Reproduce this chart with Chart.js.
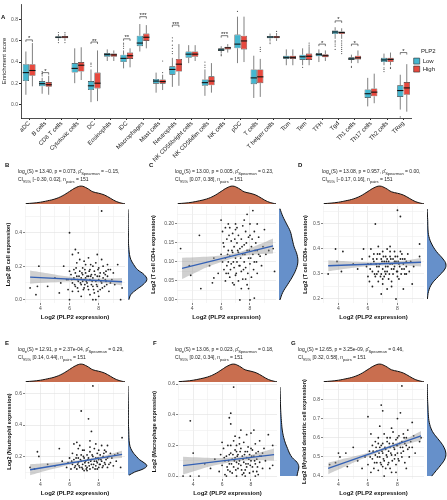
<!DOCTYPE html>
<html lang="en">
<head>
<meta charset="UTF-8">
<title>PLP2 and immune infiltration</title>
<script src="https://cdn.jsdelivr.net/npm/chart.js"></script>
<style>
  body { margin: 0; background: #fff; font-family: "Liberation Sans", Arial, sans-serif; }
  #wrap { position: relative; width: 447px; height: 500px; overflow: hidden; }
  #wrap canvas { position: absolute; }
  .tag { position: absolute; font-size: 6px; font-weight: bold; color: #111; line-height: 6px; }
  .ttl { position: absolute; font-size: 5px; line-height: 8px; white-space: nowrap; color: #222; }
  .ttl sub { font-size: 4px; vertical-align: -1.5px; line-height: 0; }
</style>
</head>
<body>
<div id="wrap"></div>
<script>
// ---------- panel A : ssGSEA scores by PLP2 group ----------
const cellTypes = ['aDC','B cells','CD8 T cells','Cytotoxic cells','DC','Eosinophils','iDC','Macrophages','Mast cells','Neutrophils','NK CD56bright cells','NK CD56dim cells','NK cells','pDC','T cells','T helper cells','Tcm','Tem','TFH','Tgd','Th1 cells','Th17 cells','Th2 cells','TReg'];

const lowMin = [0.09,0.10,0.60,0.20,0.02,0.41,0.34,0.50,0.11,0.165,0.39,0.08,0.48,0.39,0.06,0.60,0.37,0.37,0.40,0.62,0.39,-0.02,0.37,-0.05];
const lowQ1  = [0.22,0.17,0.625,0.30,0.135,0.45,0.40,0.55,0.195,0.28,0.44,0.175,0.505,0.53,0.19,0.625,0.43,0.42,0.455,0.665,0.42,0.06,0.40,0.07];
const lowMed = [0.30,0.195,0.635,0.34,0.175,0.47,0.435,0.58,0.22,0.33,0.475,0.205,0.515,0.57,0.25,0.637,0.445,0.45,0.47,0.685,0.43,0.10,0.42,0.13];
const lowQ3  = [0.38,0.22,0.645,0.39,0.22,0.485,0.47,0.65,0.24,0.36,0.50,0.235,0.53,0.66,0.33,0.648,0.46,0.47,0.485,0.70,0.445,0.14,0.44,0.18];
const lowMax = [0.50,0.25,0.665,0.53,0.33,0.52,0.51,0.76,0.30,0.44,0.56,0.33,0.55,0.83,0.46,0.67,0.52,0.53,0.52,0.73,0.47,0.25,0.48,0.28];

const highMin = [0.17,0.09,0.60,0.23,0.03,0.41,0.35,0.53,0.135,0.175,0.41,0.11,0.49,0.40,0.07,0.60,0.37,0.37,0.41,0.62,0.39,0.01,0.37,-0.07];
const highQ1  = [0.27,0.165,0.625,0.31,0.15,0.45,0.43,0.60,0.195,0.31,0.45,0.18,0.52,0.52,0.20,0.625,0.43,0.42,0.445,0.665,0.425,0.075,0.40,0.09];
const highMed = [0.32,0.185,0.637,0.37,0.20,0.468,0.46,0.635,0.215,0.38,0.475,0.22,0.535,0.60,0.26,0.637,0.445,0.455,0.46,0.68,0.44,0.115,0.425,0.155];
const highQ3  = [0.38,0.21,0.648,0.40,0.30,0.482,0.49,0.67,0.235,0.43,0.50,0.265,0.545,0.65,0.33,0.648,0.46,0.48,0.475,0.69,0.46,0.15,0.44,0.21];
const highMax = [0.58,0.27,0.67,0.54,0.51,0.51,0.53,0.75,0.28,0.57,0.56,0.39,0.57,0.83,0.43,0.675,0.52,0.55,0.51,0.72,0.51,0.29,0.49,0.38];

const lowOut = [[],[0.27,0.29,0.31],[0.585,0.68],[],[0.36,0.38,0.39],[],[0.53,0.55,0.57,0.58],[],[],[0.48,0.50,0.53,0.56,0.60,0.63],[],[0.35,0.37,0.40],[0.46,0.47],[0.88],[],[0.575,0.59],[],[0.35],[],[0.52,0.55,0.57,0.59,0.60],[0.35,0.36],[],[0.31,0.33,0.345],[-0.12]];
const highOut = [[],[],[0.585,0.68],[],[],[],[],[],[0.30,0.41],[],[],[],[],[],[0.50,0.52,0.54],[0.69],[],[0.56,0.58],[],[0.48,0.50,0.52,0.54,0.56,0.58,0.60],[],[],[0.34,0.35],[]];

const sigMark  = ['*','*','','','**','','**','***','','***','','','***','','','','','','*','*','*','','','*'];
const sigLevel = [0.61,0.30,null,null,0.59,null,0.62,0.83,null,0.75,null,null,0.65,null,null,null,null,null,0.57,0.79,0.57,null,null,0.49];

// ---------- panels B-G : correlation with PLP2 ----------
// PLP2 (x) density, shared by every panel
const plp2DensAt = [3.0,3.5,4.0,4.5,5.0,5.5,6.0,6.4,6.8,7.2,7.6,8.0,8.4,8.8,9.2,9.6,9.8];
const plp2Dens   = [0.02,0.05,0.10,0.18,0.28,0.45,0.70,0.90,1.0,0.88,0.68,0.60,0.50,0.32,0.14,0.04,0.01];

const fitXs  = [3.3, 9.6];
const bandXs = [3.3, 4.5, 5.5, 6.5, 7.5, 8.5, 9.6];

// B : B cell
const bPoints = [[3.3,0.07],[3.7,0.03],[3.9,0.20],[3.8,0.08],[4.5,0.08],[5.0,0.13],[5.3,0.04],[5.4,0.10],[5.6,0.20],[5.8,0.12],[6.0,0.40],[6.2,0.27],[6.4,0.30],[6.6,0.28],[8.2,0.53],[9.5,0.0],[9.6,0.07],[9.3,0.21],[9.0,0.16],[5.9,0.06],[6.0,0.00],[7.6,0.0],[7.8,0.0],[8.0,0.02],
  [6.1,0.15],[6.2,0.10],[6.3,0.13],[6.3,0.18],[6.4,0.08],[6.5,0.22],[6.5,0.14],[6.6,0.11],[6.6,0.05],[6.7,0.17],[6.7,0.24],[6.8,0.13],[6.8,0.09],[6.9,0.19],[6.9,0.15],[7.0,0.12],[7.0,0.07],[7.1,0.21],[7.1,0.16],[7.2,0.10],[7.2,0.14],[7.3,0.25],[7.3,0.06],[7.4,0.18],[7.4,0.12],[7.5,0.09],[7.5,0.15],[7.6,0.20],[7.6,0.13],[7.7,0.04],[7.7,0.17],[7.8,0.11],[7.8,0.22],[7.9,0.14],[7.9,0.08],[8.0,0.19],[8.0,0.12],[8.1,0.16],[8.1,0.06],[8.2,0.10],[8.3,0.20],[8.3,0.13],[8.4,0.08],[8.5,0.17],[8.5,0.11],[8.6,0.14],[8.7,0.05],[8.8,0.18],[8.9,0.12],[9.1,0.09],[6.0,0.17],[5.9,0.12],[6.2,0.05],[6.4,0.16],[6.8,0.02],[7.0,0.23],[7.4,0.03],[7.9,0.27],[8.2,0.24],[8.6,0.21],[7.3,0.14],[6.9,0.11],[7.6,0.08],[8.8,0.10],[7.1,0.13],
  [6.15,0.12],[6.35,0.09],[6.45,0.19],[6.55,0.07],[6.65,0.14],[6.75,0.10],[6.85,0.16],[6.95,0.06],[7.05,0.18],[7.15,0.11],[7.25,0.08],[7.35,0.17],[7.45,0.14],[7.55,0.11],[7.65,0.06],[7.75,0.15],[7.85,0.09],[7.95,0.18],[8.05,0.14],[8.15,0.11],[8.25,0.07],[8.35,0.16],[8.45,0.12],[8.55,0.09],[8.65,0.18],[6.55,0.12],[7.05,0.09],[7.45,0.21],[7.95,0.05],[8.45,0.15]];
const bFit = [0.135, 0.107];
const bLo = [0.095,0.102,0.107,0.110,0.106,0.098,0.085];
const bHi = [0.175,0.158,0.143,0.132,0.126,0.126,0.129];
const bDensAt = [0.0,0.03,0.06,0.09,0.12,0.15,0.18,0.21,0.24,0.27,0.30,0.35,0.40,0.45,0.50,0.54];
const bDens   = [0.05,0.15,0.45,0.80,1.0,0.85,0.50,0.30,0.15,0.08,0.05,0.02,0.02,0.01,0.01,0.0];

// C : T cell CD4+
const cPoints = [[3.2,0.135],[3.8,0.09],[3.9,0.065],[4.5,0.17],[4.6,0.03],[5.2,0.09],[5.5,0.11],[5.4,0.045],[5.5,0.058],[5.8,0.07],
  [6.0,0.21],[6.0,0.12],[6.1,0.18],[6.1,0.10],[6.2,0.08],[6.2,0.14],[6.3,0.05],[6.3,0.11],[6.4,0.16],[6.4,0.09],
  [6.5,0.20],[6.5,0.13],[6.5,0.07],[6.6,0.19],[6.6,0.115],[6.6,0.06],[6.7,0.155],[6.7,0.095],[6.8,0.175],[6.8,0.125],
  [6.8,0.045],[6.9,0.14],[6.9,0.085],[7.0,0.185],[7.0,0.11],[7.0,0.065],[7.1,0.15],[7.1,0.10],[7.2,0.17],[7.2,0.125],
  [7.2,0.05],[7.3,0.0],[7.3,0.135],[7.3,0.09],[7.4,0.16],[7.4,0.075],[7.5,0.195],[7.5,0.12],[7.5,0.055],[7.6,0.145],
  [7.6,0.10],[7.7,0.18],[7.7,0.085],[7.8,0.225],[7.8,0.13],[7.8,0.04],[7.9,0.03],[7.9,0.165],[7.9,0.11],[8.0,0.17],
  [8.0,0.0],[8.0,0.095],[8.1,0.14],[8.1,0.06],[8.2,0.235],[8.2,0.12],[8.3,0.18],[8.3,0.005],[8.3,0.10],[8.4,0.15],
  [8.5,0.13],[8.5,0.07],[8.6,0.165],[8.7,0.115],[8.8,0.09],[8.9,0.14],[9.0,0.185],[9.1,0.12],[9.3,0.13],[9.6,0.135],
  [9.7,0.075],[6.3,0.19],[7.0,0.20],[7.6,0.21],[8.5,0.20],
  [6.15,0.15],[6.35,0.07],[6.45,0.12],[6.55,0.17],[6.65,0.08],[6.75,0.13],[6.85,0.10],[6.95,0.16],[7.05,0.07],[7.15,0.13],[7.25,0.09],[7.35,0.11],[7.45,0.14],[7.55,0.08],[7.65,0.12],[7.75,0.15],[7.85,0.07],[7.95,0.13],[8.05,0.11],[8.15,0.16],[8.25,0.08],[8.35,0.13],[8.45,0.10],[8.6,0.12],[6.9,0.04],[7.4,0.03],[7.1,0.19],[8.0,0.20],[6.5,0.10],[7.7,0.055]];
const cFit = [0.083, 0.142];
const cLo = [0.055,0.077,0.093,0.106,0.115,0.120,0.122];
const cHi = [0.111,0.113,0.115,0.120,0.129,0.144,0.162];
const cDensAt = [0.0,0.02,0.04,0.06,0.08,0.10,0.12,0.14,0.16,0.18,0.20,0.22,0.24];
const cDens   = [0.05,0.20,0.45,0.70,0.90,1.0,0.95,0.80,0.70,0.60,0.40,0.20,0.05];

// D : T cell CD8+
const dPoints = [[3.3,0.30],[3.8,0.40],[3.9,0.35],[4.2,0.31],[4.3,0.39],[5.0,0.34],[5.3,0.32],[5.6,0.36],[5.7,0.40],[5.9,0.33],
  [6.0,0.29],[6.1,0.37],[6.1,0.27],[6.2,0.34],[6.3,0.31],[6.3,0.25],[6.4,0.38],[6.4,0.35],[6.5,0.50],[6.5,0.29],
  [6.6,0.33],[6.6,0.36],[6.7,0.41],[6.7,0.31],[6.7,0.27],[6.8,0.34],[6.8,0.38],[6.9,0.30],[6.9,0.36],[7.0,0.32],
  [7.0,0.39],[7.0,0.26],[7.1,0.35],[7.1,0.29],[7.2,0.37],[7.2,0.33],[7.3,0.24],[7.3,0.31],[7.3,0.40],[7.4,0.35],
  [7.4,0.28],[7.5,0.34],[7.5,0.37],[7.6,0.32],[7.6,0.25],[7.7,0.36],[7.7,0.30],[7.8,0.39],[7.8,0.33],[7.9,0.20],
  [7.9,0.35],[8.0,0.555],[8.0,0.31],[8.0,0.37],[8.1,0.34],[8.1,0.28],[8.2,0.53],[8.2,0.36],[8.3,0.32],[8.3,0.38],
  [8.4,0.34],[8.5,0.30],[8.5,0.36],[8.6,0.33],[8.7,0.38],[8.8,0.31],[8.9,0.35],[9.0,0.26],[9.1,0.33],[9.5,0.42],
  [9.5,0.37],[6.2,0.40],[7.5,0.41],[6.9,0.22],[7.6,0.27],[8.4,0.24],[6.0,0.34],[7.2,0.30],[7.8,0.35],[8.6,0.30],
  [6.15,0.32],[6.35,0.36],[6.45,0.30],[6.55,0.34],[6.65,0.38],[6.75,0.33],[6.85,0.29],[6.95,0.35],[7.05,0.37],[7.15,0.31],[7.25,0.35],[7.35,0.33],[7.45,0.30],[7.55,0.36],[7.65,0.34],[7.75,0.32],[7.85,0.37],[7.95,0.31],[8.05,0.35],[8.15,0.33],[8.25,0.30],[8.35,0.36],[8.45,0.32],[8.6,0.35],[7.0,0.28],[7.5,0.39],[8.0,0.29],[6.6,0.30],[7.3,0.36],[8.2,0.39]];
const dFit = [0.333, 0.347];
const dLo = [0.311,0.321,0.328,0.333,0.335,0.334,0.330];
const dHi = [0.355,0.351,0.348,0.347,0.349,0.354,0.364];
const dDensAt = [0.20,0.23,0.26,0.29,0.32,0.34,0.36,0.39,0.42,0.45,0.48,0.51,0.54,0.56];
const dDens   = [0.02,0.08,0.25,0.60,0.95,1.0,0.85,0.50,0.25,0.10,0.05,0.04,0.02,0.01];

// E : Neutrophil
const ePoints = [[3.3,0.13],[3.6,0.12],[3.8,0.23],[3.9,0.20],[4.5,0.15],[5.0,0.14],[5.3,0.25],[5.5,0.17],[5.8,0.13],[5.9,0.16],
  [6.0,0.19],[6.1,0.12],[6.2,0.15],[6.3,0.28],[6.3,0.18],[6.4,0.14],[6.5,0.29],[6.5,0.21],[6.5,0.12],[6.6,0.16],
  [6.6,0.19],[6.7,0.27],[6.7,0.13],[6.8,0.49],[6.8,0.17],[6.8,0.21],[6.9,0.15],[6.9,0.12],[7.0,0.19],[7.0,0.24],
  [7.1,0.14],[7.1,0.17],[7.2,0.21],[7.2,0.13],[7.3,0.44],[7.3,0.16],[7.3,0.19],[7.4,0.12],[7.4,0.23],[7.5,0.36],
  [7.5,0.15],[7.5,0.18],[7.6,0.65],[7.6,0.20],[7.6,0.13],[7.7,0.17],[7.7,0.25],[7.8,0.14],[7.8,0.19],[7.9,0.22],
  [7.9,0.16],[8.0,0.13],[8.0,0.18],[8.1,0.21],[8.1,0.15],[8.2,0.27],[8.2,0.17],[8.3,0.14],[8.3,0.20],[8.4,0.16],
  [8.5,0.23],[8.5,0.18],[8.6,0.13],[8.7,0.20],[8.8,0.22],[8.8,0.16],[8.9,0.19],[9.0,0.14],[9.1,0.21],[9.2,0.17],
  [9.5,0.13],[9.6,0.32],[6.2,0.22],[7.0,0.11],[7.8,0.28],[8.4,0.24],[6.6,0.25],[7.4,0.30],[8.6,0.27],[9.3,0.22],
  [6.15,0.17],[6.35,0.13],[6.45,0.19],[6.55,0.15],[6.65,0.14],[6.75,0.18],[6.85,0.13],[6.95,0.20],[7.05,0.16],[7.15,0.12],[7.25,0.18],[7.35,0.14],[7.45,0.17],[7.55,0.21],[7.65,0.15],[7.75,0.12],[7.85,0.17],[7.95,0.19],[8.05,0.15],[8.15,0.18],[8.25,0.13],[8.35,0.22],[8.45,0.15],[8.6,0.19],[6.9,0.24],[7.4,0.26],[8.0,0.24],[8.7,0.15],[7.2,0.11],[7.9,0.12]];
const eFit = [0.115, 0.213];
const eLo = [0.080,0.112,0.135,0.156,0.173,0.184,0.190];
const eHi = [0.150,0.158,0.165,0.174,0.189,0.208,0.236];
const eDensAt = [0.08,0.10,0.12,0.14,0.16,0.18,0.20,0.22,0.25,0.28,0.32,0.36,0.42,0.50,0.58,0.65];
const eDens   = [0.05,0.35,0.80,1.0,0.85,0.60,0.45,0.30,0.15,0.08,0.05,0.04,0.02,0.02,0.01,0.0];

// F : Macrophage
const fPoints = [[3.3,0.0],[3.8,0.0],[3.8,0.36],[4.0,0.15],[4.4,0.0],[4.8,0.08],[5.2,0.05],[5.5,0.11],[5.8,0.03],[5.9,0.14],
  [6.0,0.07],[6.1,0.18],[6.2,0.10],[6.2,0.01],[6.3,0.13],[6.4,0.04],[6.4,0.20],[6.5,0.38],[6.5,0.08],[6.6,0.41],
  [6.6,0.34],[6.6,0.15],[6.7,0.11],[6.7,0.02],[6.8,0.58],[6.8,0.23],[6.8,0.06],[6.9,0.17],[6.9,0.12],[7.0,0.09],
  [7.0,0.20],[7.1,0.05],[7.1,0.14],[7.2,0.25],[7.2,0.10],[7.3,0.07],[7.3,0.18],[7.4,0.13],[7.4,0.01],[7.5,0.22],
  [7.5,0.09],[7.6,0.16],[7.6,0.04],[7.7,0.12],[7.7,0.27],[7.8,0.08],[7.8,0.19],[7.9,0.14],[7.9,0.02],[8.0,0.28],
  [8.0,0.10],[8.1,0.17],[8.1,0.06],[8.2,0.30],[8.2,0.13],[8.3,0.08],[8.3,0.21],[8.4,0.11],[8.4,0.03],[8.5,0.16],
  [8.6,0.09],[8.6,0.23],[8.7,0.13],[8.8,0.05],[8.9,0.18],[9.0,0.10],[9.2,0.27],[9.3,0.05],[9.5,0.20],[9.5,0.07],
  [6.3,0.0],[7.0,0.0],[7.6,0.0],[6.0,0.22],[7.3,0.30],[8.8,0.15],[6.9,0.26],[7.7,0.06],[8.5,0.01],[6.5,0.14],
  [6.15,0.12],[6.35,0.06],[6.45,0.10],[6.55,0.03],[6.65,0.08],[6.75,0.14],[6.85,0.10],[6.95,0.04],[7.05,0.13],[7.15,0.08],[7.25,0.16],[7.35,0.04],[7.45,0.11],[7.55,0.14],[7.65,0.08],[7.75,0.16],[7.85,0.11],[7.95,0.07],[8.05,0.13],[8.15,0.03],[8.25,0.10],[8.35,0.15],[8.45,0.06],[8.6,0.13],[7.0,0.16],[7.5,0.02],[8.0,0.18],[6.6,0.20],[7.2,0.21],[8.3,0.0]];
const fFit = [0.068, 0.140];
const fLo = [0.010,0.045,0.070,0.089,0.101,0.105,0.100];
const fHi = [0.126,0.121,0.118,0.121,0.131,0.151,0.180];
const fDensAt = [0.0,0.03,0.06,0.09,0.12,0.15,0.18,0.21,0.25,0.30,0.35,0.40,0.45,0.50,0.58];
const fDens   = [0.90,0.95,1.0,0.90,0.65,0.50,0.40,0.30,0.20,0.12,0.08,0.05,0.03,0.02,0.0];

// G : Myeloid dendritic cell
const gPoints = [[3.4,0.46],[3.8,0.47],[4.0,0.52],[4.1,0.50],[4.5,0.52],[4.6,0.45],[5.0,0.55],[5.3,0.48],[5.6,0.44],[5.8,0.50],
  [6.0,0.71],[6.0,0.46],[6.1,0.53],[6.2,0.42],[6.3,0.49],[6.3,0.56],[6.4,0.44],[6.5,0.51],[6.5,0.58],[6.6,0.47],
  [6.6,0.53],[6.7,0.43],[6.7,0.60],[6.8,0.66],[6.8,0.50],[6.8,0.55],[6.9,0.77],[6.9,0.46],[7.0,0.74],[7.0,0.52],
  [7.0,0.57],[7.1,0.48],[7.1,0.62],[7.2,0.54],[7.2,0.44],[7.3,0.50],[7.3,0.58],[7.4,0.53],[7.4,0.47],[7.5,0.60],
  [7.5,0.55],[7.6,0.42],[7.6,0.51],[7.7,0.57],[7.7,0.63],[7.8,0.49],[7.8,0.54],[7.9,0.59],[7.9,0.46],[8.0,0.70],
  [8.0,0.56],[8.0,0.52],[8.1,0.61],[8.1,0.48],[8.2,0.73],[8.2,0.55],[8.3,0.87],[8.3,0.58],[8.3,0.50],[8.4,0.62],
  [8.4,0.53],[8.5,0.57],[8.5,0.47],[8.6,0.60],[8.7,0.54],[8.7,0.64],[8.8,0.50],[8.9,0.58],[9.0,0.68],[9.0,0.55],
  [9.1,0.61],[9.2,0.52],[9.5,0.58],[9.6,0.60],[6.2,0.62],[7.1,0.40],[7.9,0.42],[8.6,0.44],[6.9,0.56],[7.6,0.65],
  [6.15,0.50],[6.35,0.53],[6.45,0.47],[6.55,0.55],[6.65,0.50],[6.75,0.52],[6.85,0.47],[6.95,0.53],[7.05,0.49],[7.15,0.55],[7.25,0.51],[7.35,0.46],[7.45,0.57],[7.55,0.52],[7.65,0.48],[7.75,0.55],[7.85,0.51],[7.95,0.56],[8.05,0.49],[8.15,0.57],[8.25,0.52],[8.35,0.55],[8.45,0.60],[8.6,0.56],[7.0,0.45],[7.5,0.44],[8.0,0.60],[8.8,0.55],[7.3,0.60],[6.7,0.57]];
const gFit = [0.44, 0.61];
const gLo = [0.410,0.451,0.486,0.516,0.543,0.564,0.585];
const gHi = [0.470,0.493,0.512,0.534,0.561,0.592,0.635];
const gDensAt = [0.40,0.43,0.46,0.49,0.52,0.55,0.58,0.61,0.64,0.68,0.72,0.76,0.80,0.84,0.88];
const gDens   = [0.25,0.50,0.75,0.95,1.0,0.90,0.70,0.45,0.25,0.12,0.07,0.05,0.03,0.02,0.01];

// ---------- drawing ----------
Chart.defaults.font.family = '"Liberation Sans", Arial, sans-serif';
Chart.defaults.color = '#4d4d4d';
const wrap = document.getElementById('wrap');

function makeCanvas(left, top, w, h) {
  const c = document.createElement('canvas');
  c.width = w; c.height = h;
  c.style.left = left + 'px'; c.style.top = top + 'px';
  c.style.width = w + 'px'; c.style.height = h + 'px';
  wrap.appendChild(c);
  return c;
}
function addText(cls, left, top, html) {
  const d = document.createElement('div');
  d.className = cls;
  d.style.left = left + 'px'; d.style.top = top + 'px';
  d.innerHTML = html;
  wrap.appendChild(d);
}

// boxplot whiskers, medians, outliers and significance brackets
const groups = [
  { min: lowMin, q1: lowQ1, med: lowMed, q3: lowQ3, max: lowMax, out: lowOut },
  { min: highMin, q1: highQ1, med: highMed, q3: highQ3, max: highMax, out: highOut }
];
const boxExtras = {
  id: 'boxExtras',
  beforeDatasetsDraw(chart) {
    const ctx = chart.ctx, ys = chart.scales.y;
    ctx.save();
    ctx.strokeStyle = '#4a4a4a';
    ctx.lineWidth = 0.7;
    groups.forEach((g, di) => {
      chart.getDatasetMeta(di).data.forEach((bar, i) => {
        ctx.beginPath();
        ctx.moveTo(bar.x, ys.getPixelForValue(g.max[i]));
        ctx.lineTo(bar.x, ys.getPixelForValue(g.q3[i]));
        ctx.moveTo(bar.x, ys.getPixelForValue(g.q1[i]));
        ctx.lineTo(bar.x, ys.getPixelForValue(g.min[i]));
        ctx.stroke();
      });
    });
    ctx.restore();
  },
  afterDatasetsDraw(chart) {
    const ctx = chart.ctx, ys = chart.scales.y;
    ctx.save();
    groups.forEach((g, di) => {
      chart.getDatasetMeta(di).data.forEach((bar, i) => {
        const half = bar.width / 2;
        const ym = ys.getPixelForValue(g.med[i]);
        ctx.strokeStyle = '#111';
        ctx.lineWidth = 1.1;
        ctx.beginPath();
        ctx.moveTo(bar.x - half, ym);
        ctx.lineTo(bar.x + half, ym);
        ctx.stroke();
        ctx.fillStyle = '#555';
        g.out[i].forEach(v => {
          ctx.beginPath();
          ctx.arc(bar.x, ys.getPixelForValue(v), 0.6, 0, Math.PI * 2);
          ctx.fill();
        });
      });
    });
    const m0 = chart.getDatasetMeta(0).data, m1 = chart.getDatasetMeta(1).data;
    ctx.strokeStyle = '#222';
    ctx.lineWidth = 0.6;
    ctx.fillStyle = '#222';
    ctx.font = '6px "Liberation Sans", Arial, sans-serif';
    ctx.textAlign = 'center';
    ctx.textBaseline = 'alphabetic';
    sigMark.forEach((s, i) => {
      if (!s) return;
      const x1 = m0[i].x, x2 = m1[i].x, yb = ys.getPixelForValue(sigLevel[i]);
      ctx.beginPath();
      ctx.moveTo(x1, yb + 2); ctx.lineTo(x1, yb); ctx.lineTo(x2, yb); ctx.lineTo(x2, yb + 2);
      ctx.stroke();
      ctx.fillText(s, (x1 + x2) / 2, yb + 0.5);
    });
    ctx.restore();
  }
};

new Chart(makeCanvas(0, 0, 447, 170), {
  type: 'bar',
  data: {
    labels: cellTypes,
    datasets: [
      { label: 'Low', data: lowQ1.map((v, i) => [v, lowQ3[i]]), backgroundColor: '#45B6CF', borderColor: '#2b2b2b', borderWidth: 0.6, borderSkipped: false },
      { label: 'High', data: highQ1.map((v, i) => [v, highQ3[i]]), backgroundColor: '#E7493E', borderColor: '#2b2b2b', borderWidth: 0.6, borderSkipped: false }
    ]
  },
  options: {
    responsive: false, animation: false, events: [],
    categoryPercentage: 0.8, barPercentage: 0.96,
    layout: { padding: { top: 1, right: 2 } },
    plugins: {
      tooltip: { enabled: false },
      legend: {
        position: 'right', fullSize: false,
        title: { display: true, text: 'PLP2', color: '#222', font: { size: 6 }, padding: { top: 0, bottom: 1 } },
        labels: { boxWidth: 6, boxHeight: 6, padding: 2, color: '#222', font: { size: 6 } }
      }
    },
    scales: {
      x: {
        afterFit: s => { s.height = 52; },
        ticks: { autoSkip: false, minRotation: 45, maxRotation: 45, color: '#222', font: { size: 6 }, padding: 0 },
        grid: { offset: false, drawOnChartArea: false, tickLength: 2, color: '#222' },
        border: { display: true, color: '#222', width: 0.8 }
      },
      y: {
        min: -0.13, max: 0.95,
        afterFit: s => { s.width = 21; },
        ticks: { stepSize: 0.2, includeBounds: false, callback: v => v.toFixed(1), color: '#555', font: { size: 5 }, padding: 1 },
        grid: { drawOnChartArea: false, tickLength: 2, color: '#222' },
        border: { display: true, color: '#222', width: 0.8 },
        title: { display: true, text: 'Enrichment score', color: '#222', font: { size: 6 }, padding: { top: 1, bottom: 0 } }
      }
    }
  },
  plugins: [boxExtras]
});
addText('tag', 1, 14, 'A');

// scatter panels with marginal densities
const xRange = [2.95, 9.8];
function isMajor(v, step) { return Math.abs(v / step - Math.round(v / step)) < 1e-6; }

function scatterPanel(p) {
  const padT = 14, padR = 4, xAxisH = 18;
  const c = makeCanvas(p.l - p.axisW, p.t - padT, p.axisW + p.w + padR, padT + p.h + xAxisH);
  const gridColor = ctx => isMajor(ctx.tick.value, ctx.scale.axis === 'x' ? 2 : p.yMajor) ? '#e1e1e1' : '#efefef';
  const tickColor = ctx => isMajor(ctx.tick.value, ctx.scale.axis === 'x' ? 2 : p.yMajor) ? '#333' : 'rgba(0,0,0,0)';
  new Chart(c, {
    type: 'scatter',
    data: {
      datasets: [
        { type: 'line', data: fitXs.map((x, i) => ({ x, y: p.fit[i] })), borderColor: '#3461B5', borderWidth: 1.3, pointRadius: 0, fill: false },
        { type: 'line', data: bandXs.map((x, i) => ({ x, y: p.lo[i] })), borderWidth: 0, pointRadius: 0, fill: false, tension: 0.4 },
        { type: 'line', data: bandXs.map((x, i) => ({ x, y: p.hi[i] })), borderWidth: 0, pointRadius: 0, fill: '-1', backgroundColor: 'rgba(150,150,150,0.45)', tension: 0.4 },
        { data: p.pts.map(d => ({ x: d[0], y: d[1] })), pointRadius: 0.9, backgroundColor: '#222', borderWidth: 0 }
      ]
    },
    options: {
      responsive: false, animation: false, events: [],
      layout: { padding: { top: padT, right: padR, left: 0, bottom: 0 } },
      plugins: { legend: { display: false }, tooltip: { enabled: false } },
      scales: {
        x: {
          type: 'linear', min: xRange[0], max: xRange[1],
          afterFit: s => { s.height = xAxisH; },
          ticks: { stepSize: 1, includeBounds: false, maxRotation: 0, autoSkip: false, callback: v => isMajor(v, 2) ? String(v) : '', color: '#4d4d4d', font: { size: 5 }, padding: 1 },
          grid: { color: gridColor, tickColor: tickColor, tickLength: 2, lineWidth: 0.6 },
          border: { display: false },
          title: { display: true, text: 'Log2 (PLP2 expression)', color: '#111', font: { size: 6, weight: 'bold' }, padding: { top: 0, bottom: 0 } }
        },
        y: {
          type: 'linear', min: p.yMin, max: p.yMax,
          afterFit: s => { s.width = p.axisW; },
          ticks: { stepSize: p.yStep, includeBounds: false, callback: v => isMajor(v, p.yMajor) ? v.toFixed(p.yDec) : '', color: '#4d4d4d', font: { size: 5 }, padding: 1 },
          grid: { color: gridColor, tickColor: tickColor, tickLength: 2, lineWidth: 0.6 },
          border: { display: false },
          title: { display: true, text: p.yTitle, color: '#111', font: { size: 5.5, weight: 'bold' }, padding: { top: p.tPad, bottom: 0 } }
        }
      }
    }
  });

  // top marginal density (PLP2)
  new Chart(makeCanvas(p.l, p.t - 21, p.w, 19), {
    type: 'line',
    data: { datasets: [{ data: plp2DensAt.map((x, i) => ({ x, y: plp2Dens[i] })), borderColor: '#111', borderWidth: 1, pointRadius: 0, tension: 0.4, fill: 'origin', backgroundColor: '#C96E4F' }] },
    options: {
      responsive: false, animation: false, events: [],
      layout: { padding: 0 },
      plugins: { legend: { display: false }, tooltip: { enabled: false } },
      scales: { x: { type: 'linear', min: xRange[0], max: xRange[1], display: false }, y: { type: 'linear', min: 0, max: 1.06, display: false } }
    }
  });

  // right marginal density (cell score)
  new Chart(makeCanvas(p.l + p.w + 3, p.t, 20, p.h), {
    type: 'line',
    data: { datasets: [{ data: p.densAt.map((y, i) => ({ x: p.dens[i], y })), borderColor: '#111', borderWidth: 1, pointRadius: 0, tension: 0.4, fill: 'origin', backgroundColor: '#6690CA' }] },
    options: {
      indexAxis: 'y',
      responsive: false, animation: false, events: [],
      layout: { padding: 0 },
      plugins: { legend: { display: false }, tooltip: { enabled: false } },
      scales: { x: { type: 'linear', min: 0, max: 1.06, display: false }, y: { type: 'linear', min: p.yMin, max: p.yMax, display: false } }
    }
  });

  addText('tag', p.tagX, p.t - 44, p.tag);
  addText('ttl', p.ttlX, p.t - 39, p.title[0] + '<br>' + p.title[1]);
}

const panels = [
  { tag: 'B', tagX: 5, ttlX: 18, l: 25, t: 206, w: 100, h: 97, axisW: 25, tPad: 5, yMin: -0.02, yMax: 0.56, yStep: 0.1, yMajor: 0.2, yDec: 1,
    yTitle: 'Log2 (B cell expression)', pts: bPoints, fit: bFit, lo: bLo, hi: bHi, densAt: bDensAt, dens: bDens,
    title: ['log<sub>e</sub>(S) = 13.40, p = 0.073, ρ̂<sub>Spearman</sub> = −0.15,', 'CI<sub>95%</sub> [−0.30, 0.02], n<sub>pairs</sub> = 151'] },
  { tag: 'C', tagX: 149, ttlX: 175, l: 177, t: 206, w: 99, h: 97, axisW: 27, tPad: 0, yMin: -0.008, yMax: 0.247, yStep: 0.025, yMajor: 0.05, yDec: 2,
    yTitle: 'Log2 (T cell CD4+ expression)', pts: cPoints, fit: cFit, lo: cLo, hi: cHi, densAt: cDensAt, dens: cDens,
    title: ['log<sub>e</sub>(S) = 13.00, p = 0.005, ρ̂<sub>Spearman</sub> = 0.23,', 'CI<sub>95%</sub> [0.07, 0.38], n<sub>pairs</sub> = 151'] },
  { tag: 'D', tagX: 298, ttlX: 322, l: 323, t: 206, w: 101, h: 97, axisW: 21, tPad: 0, yMin: 0.184, yMax: 0.572, yStep: 0.05, yMajor: 0.1, yDec: 1,
    yTitle: 'Log2 (T cell CD8+ expression)', pts: dPoints, fit: dFit, lo: dLo, hi: dHi, densAt: dDensAt, dens: dDens,
    title: ['log<sub>e</sub>(S) = 13.08, p = 0.957, ρ̂<sub>Spearman</sub> = 0.00,', 'CI<sub>95%</sub> [−0.17, 0.16], n<sub>pairs</sub> = 151'] },
  { tag: 'E', tagX: 5, ttlX: 18, l: 25, t: 384, w: 100, h: 95, axisW: 25, tPad: 6, yMin: 0.056, yMax: 0.6625, yStep: 0.1, yMajor: 0.2, yDec: 1,
    yTitle: 'Log2 (Neutrophil expression)', pts: ePoints, fit: eFit, lo: eLo, hi: eHi, densAt: eDensAt, dens: eDens,
    title: ['log<sub>e</sub>(S) = 12.91, p = 2.37e-04, ρ̂<sub>Spearman</sub> = 0.29,', 'CI<sub>95%</sub> [0.14, 0.44], n<sub>pairs</sub> = 151'] },
  { tag: 'F', tagX: 153, ttlX: 175, l: 178, t: 384, w: 99, h: 95, axisW: 27, tPad: 0, yMin: -0.019, yMax: 0.60, yStep: 0.1, yMajor: 0.2, yDec: 1,
    yTitle: 'Log2 (Macrophage expression)', pts: fPoints, fit: fFit, lo: fLo, hi: fHi, densAt: fDensAt, dens: fDens,
    title: ['log<sub>e</sub>(S) = 13.06, p = 0.023, ρ̂<sub>Spearman</sub> = 0.18,', 'CI<sub>95%</sub> [0.02, 0.34], n<sub>pairs</sub> = 151'] },
  { tag: 'G', tagX: 291, ttlX: 298, l: 323, t: 384, w: 101, h: 95, axisW: 22, tPad: 0, yMin: 0.385, yMax: 0.88, yStep: 0.05, yMajor: 0.1, yDec: 1,
    yTitle: 'Log2 (Myeloid dendritic cell expression)', pts: gPoints, fit: gFit, lo: gLo, hi: gHi, densAt: gDensAt, dens: gDens,
    title: ['log<sub>e</sub>(S) = 12.65, p = 3.25e-09, ρ̂<sub>Spearman</sub> = 0.46,', 'CI<sub>95%</sub> [0.32, 0.58], n<sub>pairs</sub> = 151'] }
];
panels.forEach(scatterPanel);
</script>
</body>
</html>
